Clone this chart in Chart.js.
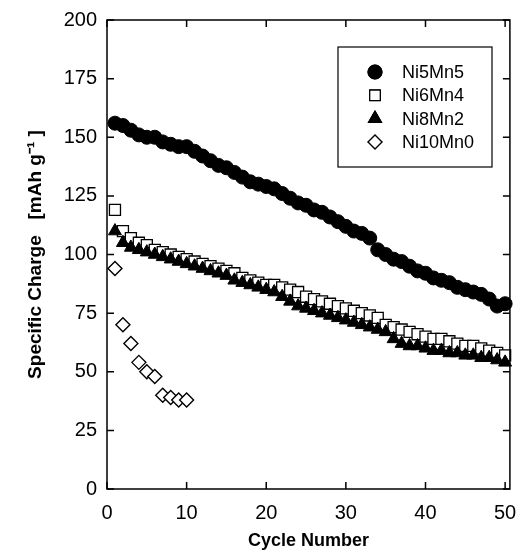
<!DOCTYPE html>
<html>
<head>
<meta charset="utf-8">
<script src="https://cdn.jsdelivr.net/npm/chart.js@4.4.1/dist/chart.umd.min.js"></script>
<style>
    html, body { margin: 0; padding: 0; background: #fff; }
    #wrap { width: 519px; height: 552px; position: relative; }
</style>
</head>
<body>
<div id="wrap"><canvas id="myChart"></canvas></div>
<script>
// cycle numbers
const cycles = [1, 2, 3, 4, 5, 6, 7, 8, 9, 10, 11, 12, 13, 14, 15, 16, 17, 18, 19, 20,
    21, 22, 23, 24, 25, 26, 27, 28, 29, 30, 31, 32, 33, 34, 35, 36, 37, 38, 39, 40,
    41, 42, 43, 44, 45, 46, 47, 48, 49, 50];

// specific charge, mAh/g
const ni5mn5 = [156, 155, 153, 151, 150, 150, 148, 147, 146, 146, 144, 142, 140, 138, 137, 135, 133, 131, 130, 129,
    128, 126, 124, 122, 121, 119, 118, 116, 114, 112, 110, 109, 107, 102, 100, 98, 97, 95, 93, 92,
    90, 89, 88, 86, 85, 84, 83, 81, 78, 79];
const ni6mn4 = [119, 110, 107, 105, 104, 102, 101, 100, 99, 98, 97, 96, 95, 94, 93, 92, 90, 89, 88, 87,
    87, 86, 85, 84, 82, 81, 80, 79, 78, 77, 76, 75, 74, 73, 70, 69, 68, 67, 66, 65,
    64, 64, 63, 62, 61, 61, 60, 59, 58, 57];
const ni8mn2 = [110, 105, 103, 102, 101, 100, 99, 98, 97, 96, 95, 94, 93, 92, 91, 89, 88, 87, 86, 85,
    84, 82, 80, 78, 77, 76, 75, 74, 73, 72, 71, 70, 69, 68, 67, 64, 62, 61, 61, 60,
    59, 59, 58, 58, 57, 57, 56, 56, 55, 54];
const ni10mn0 = [94, 70, 62, 54, 50, 48, 40, 39, 38, 38];

const xTicks = [0, 10, 20, 30, 40, 50];
const yTicks = [0, 25, 50, 75, 100, 125, 150, 175, 200];

const FONT = '"Liberation Sans", Arial, Helvetica, sans-serif';

function pts(ys) {
    return ys.map((y, i) => ({ x: cycles[i], y: y }));
}

// frame with inward ticks on all four sides, plus the boxed legend
const framePlugin = {
    id: 'frame',
    afterDraw(chart) {
        const ctx = chart.ctx;
        const a = chart.chartArea;
        const xs = chart.scales.x, ys = chart.scales.y;
        ctx.save();
        ctx.strokeStyle = '#000';
        ctx.lineWidth = 1.5;
        ctx.strokeRect(a.left, a.top, a.right - a.left, a.bottom - a.top);
        ctx.beginPath();
        const tl = 7;
        xTicks.forEach(v => {
            const px = xs.getPixelForValue(v);
            ctx.moveTo(px, a.bottom); ctx.lineTo(px, a.bottom - tl);
            ctx.moveTo(px, a.top); ctx.lineTo(px, a.top + tl);
        });
        yTicks.forEach(v => {
            const py = ys.getPixelForValue(v);
            ctx.moveTo(a.left, py); ctx.lineTo(a.left + tl, py);
            ctx.moveTo(a.right, py); ctx.lineTo(a.right - tl, py);
        });
        ctx.stroke();

        // legend
        ctx.lineWidth = 1.2;
        ctx.strokeRect(338, 47, 154, 120);
        ctx.font = '18px ' + FONT;
        ctx.textBaseline = 'middle';
        ctx.fillStyle = '#000';
        chart.data.datasets.forEach((ds, i) => {
            const cy = 72 + i * 23.3;
            Chart.helpers.drawPoint(ctx, {
                pointStyle: ds.pointStyle,
                radius: ds.legendRadius,
                borderWidth: ds.borderWidth,
                rotation: 0
            }, 375, cy);
            ctx.fillStyle = ds.backgroundColor;
            ctx.strokeStyle = '#000';
            ctx.lineWidth = ds.borderWidth;
            ctx.fill();
            ctx.stroke();
            ctx.fillStyle = '#000';
            ctx.fillText(ds.label, 402, cy + 1);
        });
        ctx.restore();
    }
};

const ctx = document.getElementById('myChart').getContext('2d');
new Chart(ctx, {
    type: 'scatter',
    data: {
        datasets: [
            {
                label: 'Ni5Mn5', data: pts(ni5mn5), pointStyle: 'circle',
                pointRadius: 7, legendRadius: 7, backgroundColor: '#000', borderColor: '#000',
                borderWidth: 1, order: 1
            },
            {
                label: 'Ni6Mn4', data: pts(ni6mn4), pointStyle: 'rect',
                pointRadius: 7.8, legendRadius: 7.5, backgroundColor: '#fff', borderColor: '#000',
                borderWidth: 1.3, order: 3
            },
            {
                label: 'Ni8Mn2', data: pts(ni8mn2), pointStyle: 'triangle',
                pointRadius: 7.5, legendRadius: 7.5, backgroundColor: '#000', borderColor: '#000',
                borderWidth: 1, order: 2
            },
            {
                label: 'Ni10Mn0', data: pts(ni10mn0), pointStyle: 'rectRot',
                pointRadius: 7, legendRadius: 7, backgroundColor: '#fff', borderColor: '#000',
                borderWidth: 1.4, order: 4
            }
        ]
    },
    options: {
        responsive: true,
        maintainAspectRatio: false,
        animation: false,
        clip: false,
        layout: { padding: { left: 0, right: 7, top: 20, bottom: 0 } },
        plugins: {
            legend: { display: false },
            tooltip: { enabled: false }
        },
        scales: {
            x: {
                type: 'linear',
                min: 0,
                max: 50.6,
                grid: { display: false },
                border: { display: false },
                afterBuildTicks: s => { s.ticks = xTicks.map(v => ({ value: v })); },
                afterFit: s => { s.height = 63; s.paddingLeft = 0; s.paddingRight = 0; },
                ticks: { color: '#000', padding: 4, font: { family: FONT, size: 20 } },
                title: {
                    display: true, text: 'Cycle Number', color: '#000',
                    padding: { top: 0, bottom: 0 },
                    font: { family: FONT, size: 18, weight: 'bold' }
                }
            },
            y: {
                min: 0,
                max: 200,
                grid: { display: false },
                border: { display: false },
                afterBuildTicks: s => { s.ticks = yTicks.map(v => ({ value: v })); },
                afterFit: s => { s.width = 107; s.paddingTop = 0; s.paddingBottom = 0; },
                ticks: { color: '#000', padding: 2, font: { family: FONT, size: 20 } },
                title: {
                    display: true, text: 'Specific Charge   [mAh g\u207B\u00B9 ]', color: '#000',
                    padding: { top: 24, bottom: 0 },
                    font: { family: FONT, size: 19, weight: 'bold' }
                }
            }
        }
    },
    plugins: [framePlugin]
});
</script>
</body>
</html>
